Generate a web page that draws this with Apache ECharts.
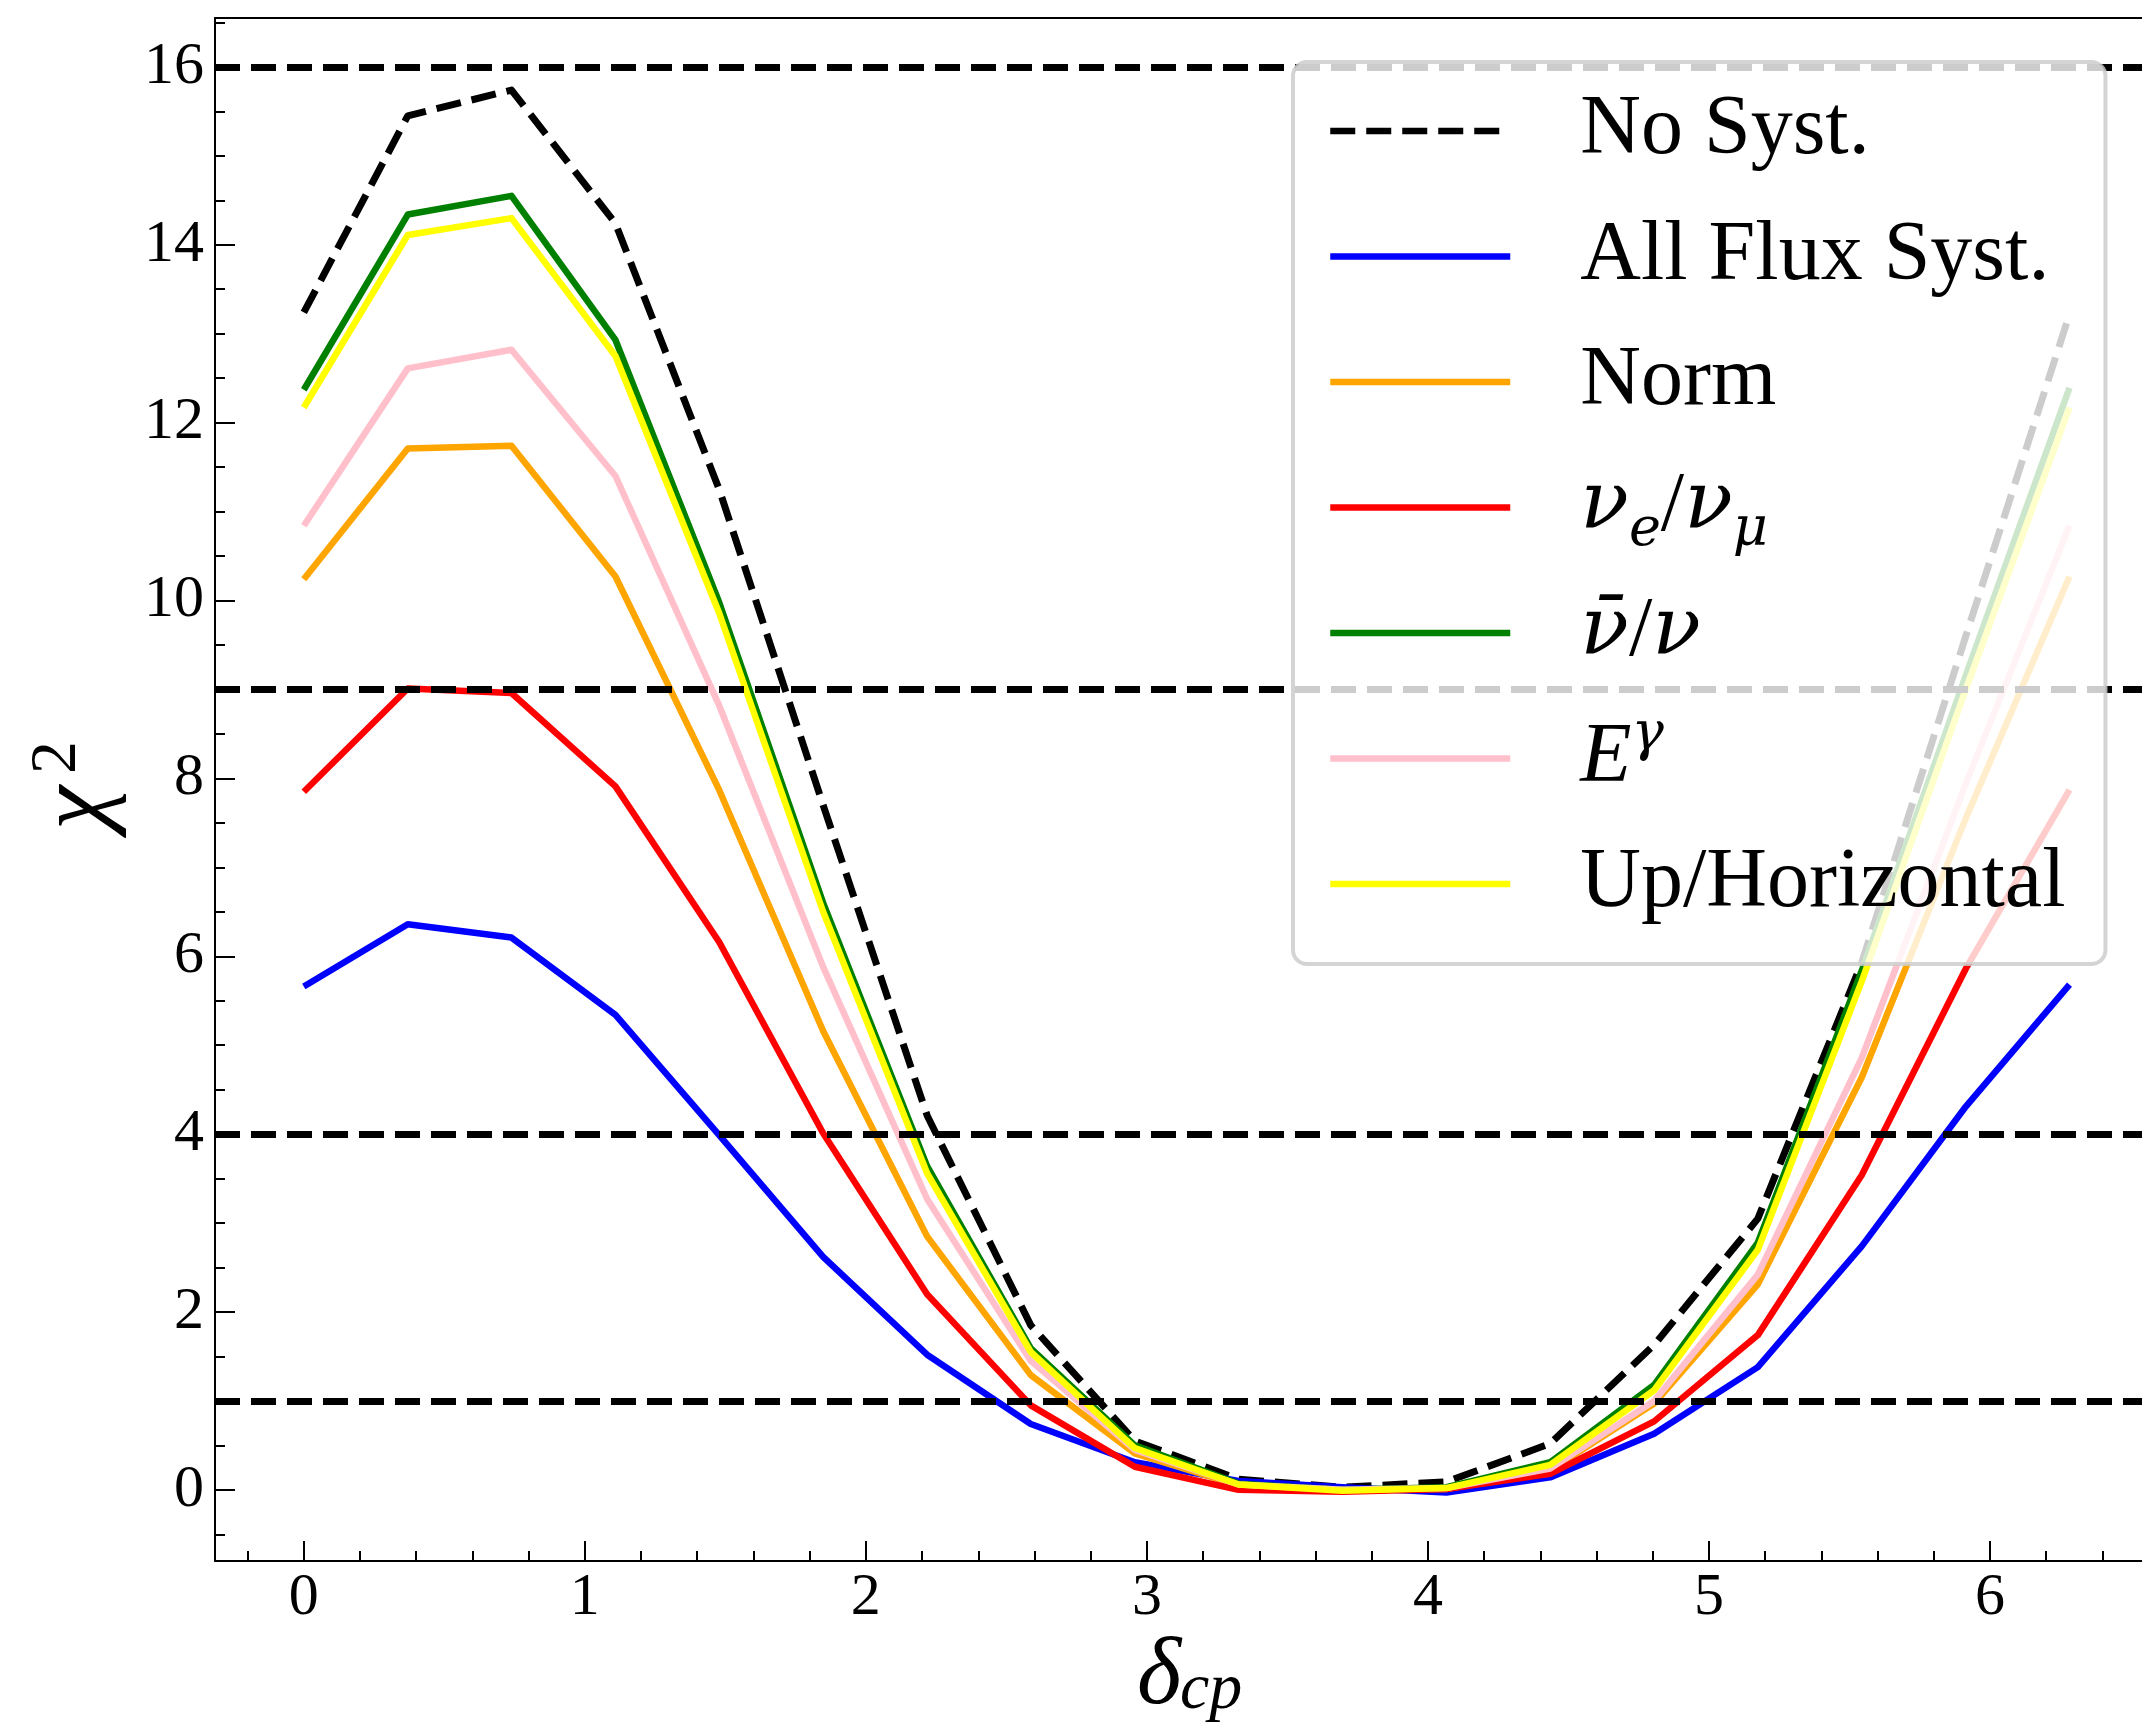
<!DOCTYPE html>
<html>
<head>
<meta charset="utf-8">
<script src="https://cdn.jsdelivr.net/npm/echarts@6/dist/echarts.min.js"></script>
<style>
html,body{margin:0;padding:0;background:#ffffff;}
#chart{width:2142px;height:1736px;}
</style>
</head>
<body>
<div id="chart"></div>
<script>
// ---- data ----
const deltaCP = [0, 0.370, 0.739, 1.109, 1.478, 1.848, 2.218, 2.587, 2.957, 3.326, 3.696, 4.066, 4.435, 4.805, 5.174, 5.544, 5.914, 6.283];
const noSyst   = [13.24, 15.45, 15.74, 14.24, 11.25, 7.70, 4.21, 1.85, 0.55, 0.12, 0.03, 0.09, 0.52, 1.63, 3.05, 5.93, 9.60, 13.22];
const allFlux  = [5.66, 6.36, 6.21, 5.34, 3.99, 2.62, 1.52, 0.74, 0.31, 0.10, 0.03, -0.03, 0.14, 0.63, 1.38, 2.74, 4.31, 5.68];
const norm     = [10.24, 11.71, 11.74, 10.27, 7.87, 5.16, 2.85, 1.29, 0.41, 0.05, 0.00, 0.01, 0.22, 0.97, 2.31, 4.64, 7.55, 10.27];
const nueNumu  = [7.85, 9.01, 8.96, 7.91, 6.16, 4.01, 2.20, 0.95, 0.26, 0.00, -0.02, 0.01, 0.18, 0.77, 1.74, 3.54, 5.86, 7.87];
const nubarNu  = [12.37, 14.34, 14.55, 12.93, 9.98, 6.60, 3.64, 1.59, 0.50, 0.07, 0.00, 0.03, 0.31, 1.18, 2.78, 5.84, 9.16, 12.39];
const eGamma   = [10.84, 12.61, 12.82, 11.40, 8.82, 5.88, 3.27, 1.45, 0.45, 0.06, 0.00, 0.02, 0.24, 1.00, 2.42, 4.86, 7.94, 10.84];
const upHoriz  = [12.17, 14.11, 14.30, 12.75, 9.86, 6.50, 3.56, 1.55, 0.47, 0.06, -0.01, 0.02, 0.28, 1.12, 2.70, 5.72, 9.00, 12.17];

const seriesNames = ['No Syst.', 'All Flux Syst.', 'Norm', 'νe/νμ', 'ν̄/ν', 'Eγ', 'Up/Horizontal'];
const legendRich  = ['{n|No Syst.}', '{n|All Flux Syst.}', '{n|Norm}', '{g|ν}{gsub|e}{n|/}{g|ν}{gsub|μ}', '{g|ν̄}{n|/}{g|ν}', '{i|E}{gsup|γ}', '{n|Up/Horizontal}'];
const seriesColors = ['#000000', '#0000ff', '#ffa500', '#ff0000', '#008000', '#ffc0cb', '#ffff00'];

const refLevels = [16, 9, 4, 1];

const xMajorTicks = [0, 1, 2, 3, 4, 5, 6];
const xMinorTicks = [-0.2, 0.2, 0.4, 0.6, 0.8, 1.2, 1.4, 1.6, 1.8, 2.2, 2.4, 2.6, 2.8, 3.2, 3.4, 3.6, 3.8, 4.2, 4.4, 4.6, 4.8, 5.2, 5.4, 5.6, 5.8, 6.2, 6.4];
const yMajorTicks = [0, 2, 4, 6, 8, 10, 12, 14, 16];
const yMinorTicks = [-0.5, 0.5, 1, 1.5, 2.5, 3, 3.5, 4.5, 5, 5.5, 6.5, 7, 7.5, 8.5, 9, 9.5, 10.5, 11, 11.5, 12.5, 13, 13.5, 14.5, 15, 15.5, 16.5];

const xTitleMain = 'δ';
const xTitleSub = 'cp';
const yTitleMain = 'χ';
const yTitleSup = '2';

// ---- chart ----
const X_MIN = -0.316, X_MAX = 6.541, Y_MIN = -0.80, Y_MAX = 16.55;
const FONT = '"Liberation Serif", "DejaVu Serif", serif';
const GFONT = '"DejaVu Serif", "Liberation Serif", serif';
const gridBox = {left: 215, right: 0, top: 18, bottom: 175, containLabel: false, outerBoundsMode: 'none'};
const DASH = [25, 11];

const valueSets = [noSyst, allFlux, norm, nueNumu, nubarNu, eGamma, upHoriz];

const series = valueSets.map((vals, k) => ({
  name: seriesNames[k],
  type: 'line',
  xAxisIndex: 0,
  yAxisIndex: 0,
  data: deltaCP.map((x, i) => [x, vals[i]]),
  symbol: 'none',
  showSymbol: false,
  color: seriesColors[k],
  lineStyle: {
    color: seriesColors[k],
    width: k === 0 ? 7 : 6.5,
    type: k === 0 ? DASH : 'solid',
    join: 'round'
  },
  z: 2 + k * 0.01,
  animation: false,
  silent: true
}));

series.push({
  name: 'levels',
  type: 'line',
  xAxisIndex: 0,
  yAxisIndex: 0,
  data: [],
  silent: true,
  animation: false,
  markLine: {
    silent: true,
    animation: false,
    symbol: ['none', 'none'],
    label: {show: false},
    emphasis: {disabled: true},
    lineStyle: {color: '#000000', width: 7, type: DASH, opacity: 1},
    data: refLevels.map(v => ({yAxis: v}))
  }
});

const nameMap = {};
seriesNames.forEach((n, k) => { nameMap[n] = legendRich[k]; });

const option = {
  backgroundColor: '#ffffff',
  animation: false,
  grid: [Object.assign({}, gridBox), Object.assign({}, gridBox)],
  xAxis: [
    {
      gridIndex: 0, type: 'value', position: 'bottom', min: X_MIN, max: X_MAX,
      axisLine: {show: true, onZero: false, lineStyle: {color: '#000', width: 2}},
      axisTick: {show: true, inside: true, length: 20, customValues: xMajorTicks, lineStyle: {color: '#000', width: 2}},
      axisLabel: {show: true, customValues: xMajorTicks, margin: 7, color: '#000', fontFamily: FONT, fontSize: 60},
      splitLine: {show: false}
    },
    {
      gridIndex: 0, type: 'value', position: 'top', min: X_MIN, max: X_MAX,
      axisLine: {show: true, onZero: false, lineStyle: {color: '#000', width: 2}},
      axisTick: {show: false}, axisLabel: {show: false}, splitLine: {show: false}
    },
    {
      gridIndex: 1, type: 'value', position: 'bottom', min: X_MIN, max: X_MAX,
      axisLine: {show: false, onZero: false},
      axisTick: {show: true, inside: true, length: 10, customValues: xMinorTicks, lineStyle: {color: '#000', width: 2}},
      axisLabel: {show: false}, splitLine: {show: false}
    }
  ],
  yAxis: [
    {
      gridIndex: 0, type: 'value', position: 'left', min: Y_MIN, max: Y_MAX,
      axisLine: {show: true, onZero: false, lineStyle: {color: '#000', width: 2}},
      axisTick: {show: true, inside: true, length: 20, customValues: yMajorTicks, lineStyle: {color: '#000', width: 2}},
      axisLabel: {show: true, customValues: yMajorTicks, margin: 11, color: '#000', fontFamily: FONT, fontSize: 60},
      splitLine: {show: false}
    },
    {
      gridIndex: 1, type: 'value', position: 'left', min: Y_MIN, max: Y_MAX,
      axisLine: {show: false, onZero: false},
      axisTick: {show: true, inside: true, length: 10, customValues: yMinorTicks, lineStyle: {color: '#000', width: 2}},
      axisLabel: {show: false}, splitLine: {show: false}
    }
  ],
  legend: {
    show: true,
    data: seriesNames,
    orient: 'vertical',
    left: 1293,
    top: 62,
    z: 20,
    zlevel: 0,
    selectedMode: false,
    itemWidth: 180,
    itemHeight: 20,
    itemGap: 25.5,
    padding: [19, 40, 30, 34],
    backgroundColor: 'rgba(255,255,255,0.8)',
    borderColor: 'rgba(204,204,204,0.85)',
    borderWidth: 4,
    borderRadius: 14,
    lineStyle: {width: 6.5},
    itemStyle: {color: 'rgba(0,0,0,0)', borderWidth: 0, opacity: 0},
    formatter: name => nameMap[name] || name,
    textStyle: {
      color: '#000', fontFamily: FONT, fontSize: 84, lineHeight: 100,
      padding: [0, 0, 0, 65],
      rich: {
        n: {fontFamily: FONT, fontSize: 84, lineHeight: 100, color: '#000'},
        i: {fontFamily: FONT, fontStyle: 'italic', fontSize: 84, lineHeight: 100, color: '#000'},
        g: {fontFamily: GFONT, fontStyle: 'italic', fontSize: 80, lineHeight: 100, color: '#000'},
        gsub: {fontFamily: GFONT, fontStyle: 'italic', fontSize: 54, lineHeight: 52, verticalAlign: 'bottom', color: '#000'},
        gsup: {fontFamily: GFONT, fontStyle: 'italic', fontSize: 54, lineHeight: 52, verticalAlign: 'top', color: '#000'}
      }
    }
  },
  graphic: [
    {type: 'text', x: 1137, y: 1678, silent: true,
      style: {text: xTitleMain, fill: '#000', fontFamily: FONT, fontStyle: 'italic', fontSize: 95, align: 'left', verticalAlign: 'middle'}},
    {type: 'text', x: 1180, y: 1691, silent: true,
      style: {text: xTitleSub, fill: '#000', fontFamily: FONT, fontStyle: 'italic', fontSize: 66, align: 'left', verticalAlign: 'middle'}},
    {type: 'group', x: 113, y: 790, rotation: Math.PI / 2, silent: true, children: [
      {type: 'text', x: -40, y: -34,
        style: {text: yTitleMain, fill: '#000', fontFamily: FONT, fontStyle: 'italic', fontSize: 100, align: 'left', verticalAlign: 'middle'}},
      {type: 'text', x: 16, y: -55,
        style: {text: yTitleSup, fill: '#000', fontFamily: FONT, fontSize: 66, align: 'left', verticalAlign: 'middle'}}
    ]}
  ],
  series: series
};

const chart = echarts.init(document.getElementById('chart'), null, {renderer: 'canvas', width: 2142, height: 1736});
chart.setOption(option);
</script>
</body>
</html>
